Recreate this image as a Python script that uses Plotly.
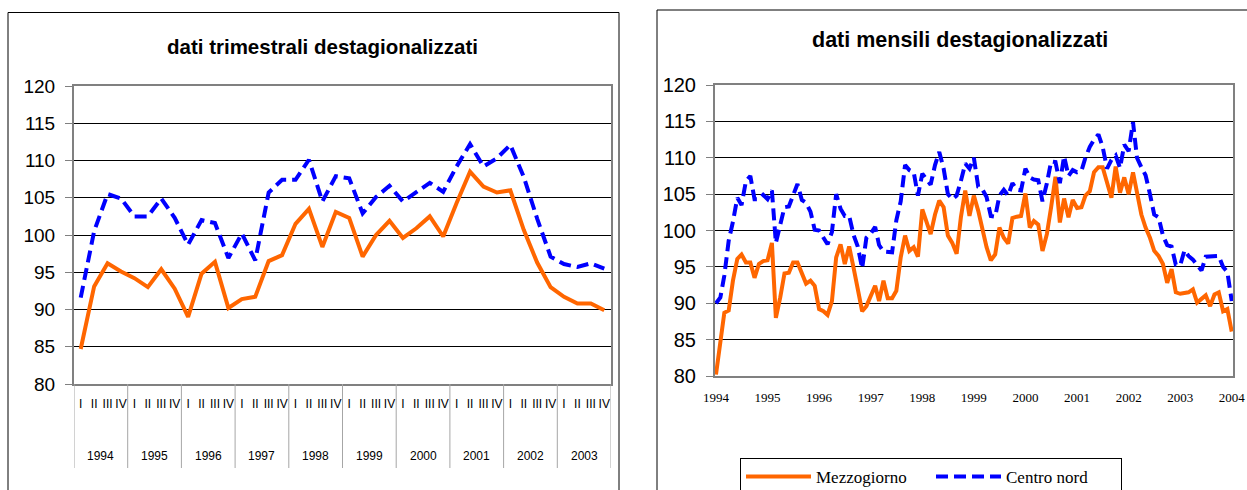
import plotly.graph_objects as go
import pandas as pd

# ---------------- data ----------------
years_q = ["1994", "1995", "1996", "1997", "1998", "1999", "2000", "2001", "2002", "2003"]
quarters = ["I", "II", "III", "IV"]

mezz_q = [84.7, 93.1, 96.2, 95.1, 94.2, 93.0, 95.4, 92.8, 89.0, 94.8,
          96.4, 90.2, 91.4, 91.7, 96.5, 97.3, 101.5, 103.5, 98.4, 103.1,
          102.3, 97.1, 100.0, 101.9, 99.6, 100.9, 102.5, 99.8, 104.3, 108.5,
          106.5, 105.7, 106.0, 100.7, 96.3, 93.0, 91.7, 90.8, 90.8, 89.9]
centro_q = [91.6, 100.5, 105.5, 104.9, 102.5, 102.5, 104.9, 102.3, 98.7, 102.0,
            101.6, 96.9, 100.2, 96.6, 105.7, 107.4, 107.4, 110.1, 104.5, 107.9,
            107.6, 102.9, 105.1, 106.6, 104.5, 105.8, 107.0, 105.8, 109.2, 112.2,
            109.2, 110.3, 112.1, 107.8, 102.2, 97.1, 96.1, 95.7, 96.2, 95.5]

month_start = "1994-01-01"
mezz_m = [80.2, 84.4, 88.7, 89.0, 93.1, 96.1, 96.7, 95.6, 95.6, 93.5,
          95.4, 95.8, 95.9, 98.3, 88.0, 90.8, 94.1, 94.2, 95.6, 95.6,
          94.2, 92.7, 93.1, 92.4, 89.2, 88.9, 88.4, 90.3, 96.3, 98.1,
          95.4, 97.8, 94.9, 91.7, 88.9, 89.6, 91.0, 92.4, 90.3, 93.1,
          90.7, 90.7, 91.7, 96.3, 99.3, 97.2, 97.7, 96.4, 102.9, 101.3,
          99.5, 102.2, 104.1, 103.2, 99.3, 98.3, 96.8, 101.8, 105.5, 102.0,
          104.8, 102.7, 100.0, 97.7, 95.9, 96.7, 100.4, 99.0, 98.2, 101.7,
          101.9, 102.0, 105.1, 100.4, 101.3, 100.8, 97.2, 99.5, 103.2, 107.4,
          101.1, 104.4, 101.8, 104.2, 103.1, 103.2, 104.8, 105.4, 108.0, 108.7,
          108.7, 106.5, 104.5, 108.8, 105.2, 107.3, 105.0, 108.0, 105.5, 102.2,
          100.4, 99.0, 97.2, 96.5, 95.4, 92.8, 94.7, 91.5, 91.3, 91.4,
          91.5, 91.9, 90.1, 90.6, 91.1, 89.6, 91.2, 91.5, 88.9, 89.2, 86.1]
centro_m = [90.0, 90.8, 93.8, 98.6, 101.2, 104.5, 103.5, 106.8, 107.5, 104.3,
            104.3, 104.9, 104.3, 105.5, 98.3, 101.0, 103.2, 103.3, 105.0, 106.4,
            104.2, 103.8, 102.6, 100.1, 100.0, 99.1, 98.1, 99.8, 105.0, 103.0,
            102.0, 102.0, 99.4, 97.8, 94.8, 99.0, 99.6, 100.5, 98.0, 97.1,
            97.1, 97.0, 101.4, 104.0, 109.0, 108.3, 108.0, 104.8, 107.8, 106.9,
            106.3, 109.0, 110.8, 108.5, 105.0, 104.3, 104.8, 106.8, 109.2, 108.5,
            110.0, 106.0, 105.7, 104.6, 102.0, 101.9, 104.8, 105.6, 104.8, 106.5,
            105.6, 105.5, 108.5, 107.3, 107.0, 106.9, 104.0, 106.5, 109.5, 109.4,
            106.5, 110.2, 107.5, 108.3, 108.0, 108.2, 110.0, 111.5, 112.5, 113.2,
            111.5, 108.5, 109.7, 110.3, 108.6, 111.8, 110.9, 114.9, 110.0, 108.7,
            107.6, 105.0, 102.2, 101.8, 99.3, 98.0, 97.8, 95.3, 95.2, 97.3,
            96.5, 96.0, 95.2, 94.5, 96.4, 96.4, 96.4, 96.5, 95.0, 94.3, 90.3]
years_m = ["1994", "1995", "1996", "1997", "1998", "1999", "2000", "2001", "2002", "2003", "2004"]

series_names = ["Mezzogiorno", "Centro nord"]
title_left = "dati trimestrali destagionalizzati"
title_right = "dati mensili destagionalizzati"

# ---------------- figure ----------------
W, H = 1247, 490
ORANGE = "#FF6600"
BLUE = "#0000FF"
SANS = "Liberation Sans, Arial, sans-serif"
SERIF = "Liberation Serif, Times New Roman, serif"

def px_x(p):
    return p / W

def px_y(p):
    return (H - p) / H

q_index = list(range(len(mezz_q)))
q_ticktext = [q for _ in years_q for q in quarters]
months = pd.date_range(month_start, periods=len(mezz_m), freq="MS")

fig = go.Figure()
fig.add_trace(go.Scatter(x=q_index, y=mezz_q, mode="lines", name=series_names[0],
                         line=dict(color=ORANGE, width=4), showlegend=False,
                         xaxis="x", yaxis="y"))
fig.add_trace(go.Scatter(x=q_index, y=centro_q, mode="lines", name=series_names[1],
                         line=dict(color=BLUE, width=4, dash="12px,6px"), showlegend=False,
                         xaxis="x", yaxis="y"))
fig.add_trace(go.Scatter(x=months, y=mezz_m, mode="lines", name=series_names[0],
                         line=dict(color=ORANGE, width=4),
                         xaxis="x2", yaxis="y2"))
fig.add_trace(go.Scatter(x=months, y=centro_m, mode="lines", name=series_names[1],
                         line=dict(color=BLUE, width=4, dash="12px,6px"),
                         xaxis="x2", yaxis="y2"))

yaxis_common = dict(range=[80, 120], dtick=5, tick0=80, showgrid=True, gridcolor="#000000",
                    gridwidth=1, ticks="outside", ticklen=7, tickcolor="#808080",
                    showline=True, linecolor="#808080", linewidth=2, mirror=True,
                    ticklabelstandoff=6,
                    zeroline=False, fixedrange=True, automargin=False)

fig.update_layout(
    width=W, height=H,
    margin=dict(l=0, r=0, t=0, b=0, autoexpand=False),
    paper_bgcolor="white", plot_bgcolor="white",
    xaxis=dict(domain=[px_x(74), px_x(611)], anchor="y",
               range=[-0.5, len(mezz_q) - 0.5], tickmode="array",
               tickvals=q_index, ticktext=q_ticktext, tickangle=0,
               showgrid=False, zeroline=False, ticks="", automargin=False,
               showline=True, linecolor="#808080", linewidth=2, mirror=True,
               ticklabelstandoff=8, fixedrange=True,
               tickfont=dict(family=SANS, size=12, color="#000000")),
    yaxis=dict(domain=[px_y(384), px_y(86)], anchor="x",
               tickfont=dict(family=SANS, size=19, color="#000000"), **yaxis_common),
    xaxis2=dict(domain=[px_x(715), px_x(1233)], anchor="y2", type="date",
                range=["1993-12-25", "2004-01-10"], tickmode="array",
                tickvals=[f"{y}-01-01" for y in years_m], ticktext=years_m, tickangle=0,
                showgrid=False, zeroline=False, ticks="", automargin=False,
                showline=True, linecolor="#808080", linewidth=2, mirror=True,
                ticklabelstandoff=8, fixedrange=True,
                tickfont=dict(family=SERIF, size=13, color="#000000")),
    yaxis2=dict(domain=[px_y(376), px_y(85)], anchor="x2",
                tickfont=dict(family=SANS, size=20, color="#000000"), **yaxis_common),
    showlegend=True,
    legend=dict(orientation="h", x=px_x(740), y=px_y(458), xanchor="left", yanchor="top",
                bordercolor="#000000", borderwidth=1, bgcolor="white",
                font=dict(family=SERIF, size=17, color="#000000"),
                itemwidth=65, entrywidth=110, entrywidthmode="pixels"),
)

annotations = [
    dict(text=f"<b>{title_left}</b>", x=px_x(322), y=px_y(46), xref="paper", yref="paper",
         showarrow=False, xanchor="center", yanchor="middle",
         font=dict(family=SANS, size=20.5, color="#000000")),
    dict(text=f"<b>{title_right}</b>", x=px_x(960), y=px_y(40), xref="paper", yref="paper",
         showarrow=False, xanchor="center", yanchor="middle",
         font=dict(family=SANS, size=21.5, color="#000000")),
]
for k, yr in enumerate(years_q):
    annotations.append(dict(text=yr, x=k * 4 + 1.5, y=px_y(456), xref="x", yref="paper",
                            showarrow=False, xanchor="center", yanchor="middle",
                            font=dict(family=SANS, size=12, color="#000000")))
fig.update_layout(annotations=annotations)

shapes = []
for k in range(len(years_q) + 1):
    shapes.append(dict(type="line", xref="x", yref="paper", x0=k * 4 - 0.5, x1=k * 4 - 0.5,
                       y0=px_y(384), y1=px_y(468), line=dict(color="#a6a6a6", width=1)))
# chart-area frames
shapes.append(dict(type="rect", xref="paper", yref="paper", x0=px_x(8), x1=px_x(619),
                   y0=-0.05, y1=px_y(12.5), line=dict(color="#000000", width=1)))
shapes.append(dict(type="rect", xref="paper", yref="paper", x0=px_x(657), x1=1.05,
                   y0=-0.05, y1=px_y(10), line=dict(color="#000000", width=1)))
fig.update_layout(shapes=shapes)

fig.write_html("out.html", config={"displayModeBar": False, "staticPlot": True},
               post_script="document.body.style.margin='0';document.body.style.overflow='hidden';")
